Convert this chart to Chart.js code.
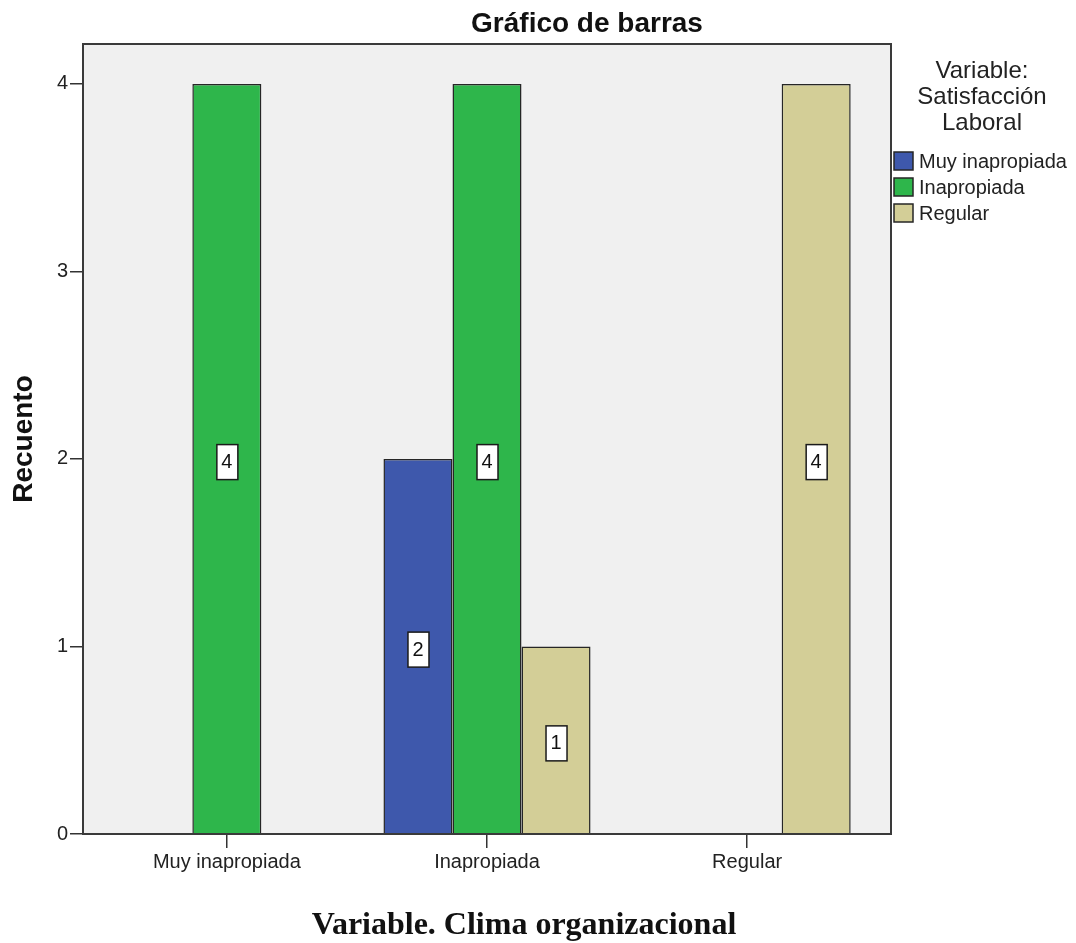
<!DOCTYPE html>
<html>
<head>
<meta charset="utf-8">
<script src="https://cdn.jsdelivr.net/npm/chart.js@4/dist/chart.umd.min.js"></script>
<style>
    body{ margin:0; background:#ffffff; }
    #chartBox{ width:1076px; height:943px; }
</style>
</head>
<body>
<div id="chartBox"><canvas id="barChart" width="1076" height="943"></canvas></div>
<script>
// categorias del eje X (Clima organizacional)
const categories = ["Muy inapropiada", "Inapropiada", "Regular"];
// series (Satisfaccion Laboral)
const seriesNames = ["Muy inapropiada", "Inapropiada", "Regular"];
const muyInapropiadaCounts = [null, 2, null];
const inapropiadaCounts = [4, 4, null];
const regularCounts = [null, 1, 4];
const seriesColors = ["#3e58ac", "#2eb64b", "#d3ce97"];
const yTicks = [0, 1, 2, 3, 4];

const chartTitle = "Gráfico de barras";
const yTitle = "Recuento";
const legendTitle = ["Variable:", "Satisfacción", "Laboral"];
const caption = "Variable. Clima organizacional";

window.toPoints = (values)=>{
    let points = [];
    for(let i = 0; i < values.length; i++){
        points.push({x: i, y: values[i]});
    }
    return points;
}

const seriesValues = [muyInapropiadaCounts, inapropiadaCounts, regularCounts];
let datasets = [];
for(let i = 0; i < seriesNames.length; i++){
    datasets.push({
        label: seriesNames[i],
        data: toPoints(seriesValues[i]),
        backgroundColor: seriesColors[i],
        borderColor: "#262626",
        borderWidth: 1.5,
        barPercentage: 1,
        categoryPercentage: 0.796
    });
}

// fondo gris, marco, etiquetas de valor, leyenda y textos
const spssExtras = {
    id: "spssExtras",
    beforeDatasetsDraw(chart){
        const {ctx, chartArea} = chart;
        ctx.save();
        ctx.fillStyle = "#f0f0f0";
        ctx.fillRect(chartArea.left, chartArea.top, chartArea.right - chartArea.left, chartArea.bottom - chartArea.top);
        ctx.restore();
    },
    afterDatasetsDraw(chart){
        const {ctx, chartArea} = chart;
        ctx.save();
        ctx.strokeStyle = "#3a3a3a";
        ctx.lineWidth = 2;
        ctx.strokeRect(chartArea.left, chartArea.top, chartArea.right - chartArea.left, chartArea.bottom - chartArea.top);

        // cajas con el recuento en el centro de cada barra
        ctx.font = "20px 'Liberation Sans', Arial, sans-serif";
        ctx.textAlign = "center";
        ctx.textBaseline = "middle";
        for(let d = 0; d < chart.data.datasets.length; d++){
            let meta = chart.getDatasetMeta(d);
            let values = seriesValues[d];
            for(let i = 0; i < meta.data.length; i++){
                if(values[i] === null) continue;
                let bar = meta.data[i];
                let cx = bar.x;
                let cy = (bar.y + bar.base) / 2 + 3;
                ctx.fillStyle = "#ffffff";
                ctx.fillRect(cx - 10, cy - 17, 21, 35);
                ctx.strokeStyle = "#1a1a1a";
                ctx.lineWidth = 1.5;
                ctx.strokeRect(cx - 10, cy - 17, 21, 35);
                ctx.fillStyle = "#111111";
                ctx.fillText(`${values[i]}`, cx, cy + 1);
            }
        }
        ctx.restore();
    },
    afterDraw(chart){
        const {ctx} = chart;
        ctx.save();
        ctx.fillStyle = "#111111";
        ctx.textAlign = "center";
        ctx.textBaseline = "alphabetic";

        ctx.font = "bold 28px 'Liberation Sans', Arial, sans-serif";
        ctx.fillText(chartTitle, 587, 32);

        ctx.font = "bold 32px 'Liberation Serif', 'Times New Roman', serif";
        ctx.fillText(caption, 524, 934);

        // leyenda
        ctx.fillStyle = "#222222";
        ctx.font = "24px 'Liberation Sans', Arial, sans-serif";
        for(let i = 0; i < legendTitle.length; i++){
            ctx.fillText(legendTitle[i], 982, 78 + i * 26);
        }
        ctx.textAlign = "left";
        ctx.textBaseline = "middle";
        ctx.font = "20px 'Liberation Sans', Arial, sans-serif";
        for(let i = 0; i < chart.data.datasets.length; i++){
            let ds = chart.data.datasets[i];
            let top = 152 + i * 26;
            ctx.fillStyle = ds.backgroundColor;
            ctx.fillRect(894, top, 19, 18);
            ctx.strokeStyle = "#262626";
            ctx.lineWidth = 1.5;
            ctx.strokeRect(894, top, 19, 18);
            ctx.fillStyle = "#222222";
            ctx.fillText(ds.label, 919, top + 10);
        }
        ctx.restore();
    }
};

const barChart = new Chart(document.querySelector("#barChart"), {
    type: "bar",
    data: { datasets },
    options: {
        responsive: false,
        animation: false,
        devicePixelRatio: 1,
        layout: { padding: { top: 44, right: 185, left: 0, bottom: 0 } },
        plugins: {
            legend: { display: false },
            tooltip: { enabled: false }
        },
        scales: {
            x: {
                type: "linear",
                offset: false,
                min: -0.553,
                max: 2.553,
                afterBuildTicks: (scale)=>{
                    scale.ticks = categories.map((c, i)=>({ value: i }));
                },
                afterFit: (scale)=>{ scale.height = 109; },
                ticks: {
                    autoSkip: false,
                    maxRotation: 0,
                    padding: 2,
                    color: "#222222",
                    font: { family: "'Liberation Sans', Arial, sans-serif", size: 20 },
                    callback: (value)=>categories[Math.round(value)]
                },
                grid: { offset: false, drawOnChartArea: false, drawTicks: true, tickLength: 14, color: "#333333", lineWidth: 1.5 },
                border: { display: false }
            },
            y: {
                min: 0,
                max: 4.213,
                afterBuildTicks: (scale)=>{
                    scale.ticks = yTicks.map((v)=>({ value: v }));
                },
                afterFit: (scale)=>{ scale.width = 83; },
                title: {
                    display: true,
                    text: yTitle,
                    color: "#111111",
                    padding: { top: 7, bottom: 0 },
                    font: { family: "'Liberation Sans', Arial, sans-serif", size: 28, weight: "bold" }
                },
                ticks: {
                    padding: 2,
                    color: "#222222",
                    font: { family: "'Liberation Sans', Arial, sans-serif", size: 20 },
                    callback: (value)=>`${value}`
                },
                grid: { drawOnChartArea: false, drawTicks: true, tickLength: 13, color: "#333333", lineWidth: 1.5 },
                border: { display: false }
            }
        }
    },
    plugins: [spssExtras]
});
</script>
</body>
</html>
